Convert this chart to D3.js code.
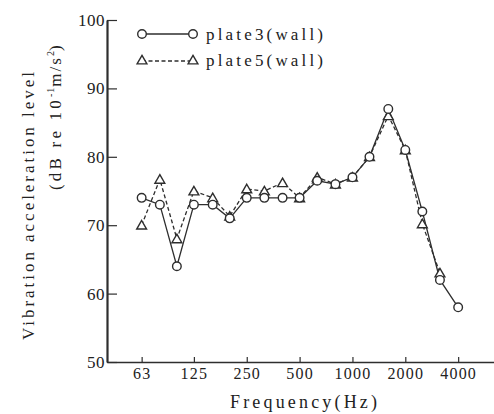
<!DOCTYPE html>
<html><head><meta charset="utf-8">
<script src="https://cdn.jsdelivr.net/npm/d3@7"></script>
<style>
html,body{margin:0;padding:0;background:#fff;}
svg{display:block;}
text{font-family:"Liberation Serif",serif;fill:#222;}
</style></head>
<body>
<script>
const freqs = [63,80,100,125,160,200,250,315,400,500,630,800,1000,1250,1600,2000,2500,3150,4000];
const plate3 = [74,73,64,73,73,71,74,74,74,74,76.5,76,77,80,87,81,72,62,58];
const plate5 = [70,76.7,68,75,74,71.3,75.3,75,76.2,74,77,76,77,80,86,81,70.2,63];
const xTicks = [63,125,250,500,1000,2000,4000];
const yTicks = [50,60,70,80,90,100];
const seriesNames = ["plate3(wall)","plate5(wall)"];

const W=494,H=414;
const svg=d3.select("body").append("svg").attr("width",W).attr("height",H);
const x=d3.scaleLog().domain([40,6400]).range([107,494]);
const y=d3.scaleLinear().domain([50,100]).range([362,20]);
const ink="#2e2e2e";
const SERIF="Liberation Serif";

// axes
const gx=svg.append("g").attr("transform","translate(0,362)")
  .call(d3.axisBottom(x).tickValues(xTicks).tickFormat(d3.format("d")).tickSize(-5).tickSizeOuter(0).tickPadding(6));
gx.select(".domain").attr("stroke",ink).attr("stroke-width",1.6);
gx.selectAll(".tick line").attr("stroke",ink).attr("stroke-width",1.2);
gx.selectAll("text").attr("font-size",16).attr("font-family",SERIF).attr("fill","#222").attr("letter-spacing",1.2);

const gy=svg.append("g").attr("transform","translate(107,0)")
  .call(d3.axisLeft(y).tickValues(yTicks).tickSize(-10).tickSizeOuter(0).tickPadding(2));
gy.select(".domain").attr("stroke",ink).attr("stroke-width",2.2);
gy.selectAll(".tick line").attr("stroke",ink).attr("stroke-width",1.2);
gy.selectAll("text").attr("font-size",17).attr("font-family",SERIF).attr("fill","#222").attr("letter-spacing",0.5);

// titles
svg.append("text").attr("x",230).attr("y",408)
  .attr("font-size",18).attr("textLength",147).attr("lengthAdjust","spacing").text("Frequency(Hz)");
svg.append("text").attr("transform","translate(34,340) rotate(-90)")
  .attr("font-size",17).attr("textLength",268).attr("lengthAdjust","spacing").text("Vibration acceleration level");
const t2=svg.append("text").attr("transform","translate(61,190) rotate(-90)")
  .attr("font-size",17);
t2.append("tspan").attr("letter-spacing",3.2).text("(dB re 10");
t2.append("tspan").attr("dy",-7).attr("font-size",10).attr("letter-spacing",1).text("-1");
t2.append("tspan").attr("dy",7).attr("letter-spacing",2).text("m/s");
t2.append("tspan").attr("dy",-7).attr("font-size",10).text("2");
t2.append("tspan").attr("dy",7).text(")");

// lines
const d3p=freqs.map((f,i)=>[f,plate3[i]]);
const d5p=plate5.map((v,i)=>[freqs[i],v]);
const line=d3.line().x(d=>x(d[0])).y(d=>y(d[1]));
svg.append("path").attr("d",line(d5p)).attr("fill","none").attr("stroke",ink).attr("stroke-width",1.3).attr("stroke-dasharray","4,2.5");
svg.append("path").attr("d",line(d3p)).attr("fill","none").attr("stroke",ink).attr("stroke-width",1.3);

const tri=d3.symbol().type(d3.symbolTriangle).size(42);
function drawTri(g,cx,cy){g.append("path").attr("d",tri()).attr("transform",`translate(${cx},${cy+1})`).attr("fill","#fff").attr("stroke",ink).attr("stroke-width",1.4);}
function drawCirc(g,cx,cy){g.append("circle").attr("cx",cx).attr("cy",cy).attr("r",4.3).attr("fill","#fff").attr("stroke",ink).attr("stroke-width",1.4);}

const gm=svg.append("g");
d5p.forEach(d=>drawTri(gm,x(d[0]),y(d[1])));
d3p.forEach(d=>drawCirc(gm,x(d[0]),y(d[1])));

// legend
const lg=svg.append("g");
lg.append("line").attr("x1",142).attr("x2",193).attr("y1",34).attr("y2",34).attr("stroke",ink).attr("stroke-width",1.3);
drawCirc(lg,142,34);drawCirc(lg,193,34);
lg.append("line").attr("x1",142).attr("x2",193).attr("y1",61).attr("y2",61).attr("stroke",ink).attr("stroke-width",1.3).attr("stroke-dasharray","4,2.5");
drawTri(lg,142,60);drawTri(lg,193,60);
lg.append("text").attr("x",206).attr("y",40).attr("font-size",17).attr("textLength",117).attr("lengthAdjust","spacing").text(seriesNames[0]);
lg.append("text").attr("x",206).attr("y",66).attr("font-size",17).attr("textLength",117).attr("lengthAdjust","spacing").text(seriesNames[1]);
</script>
</body></html>
